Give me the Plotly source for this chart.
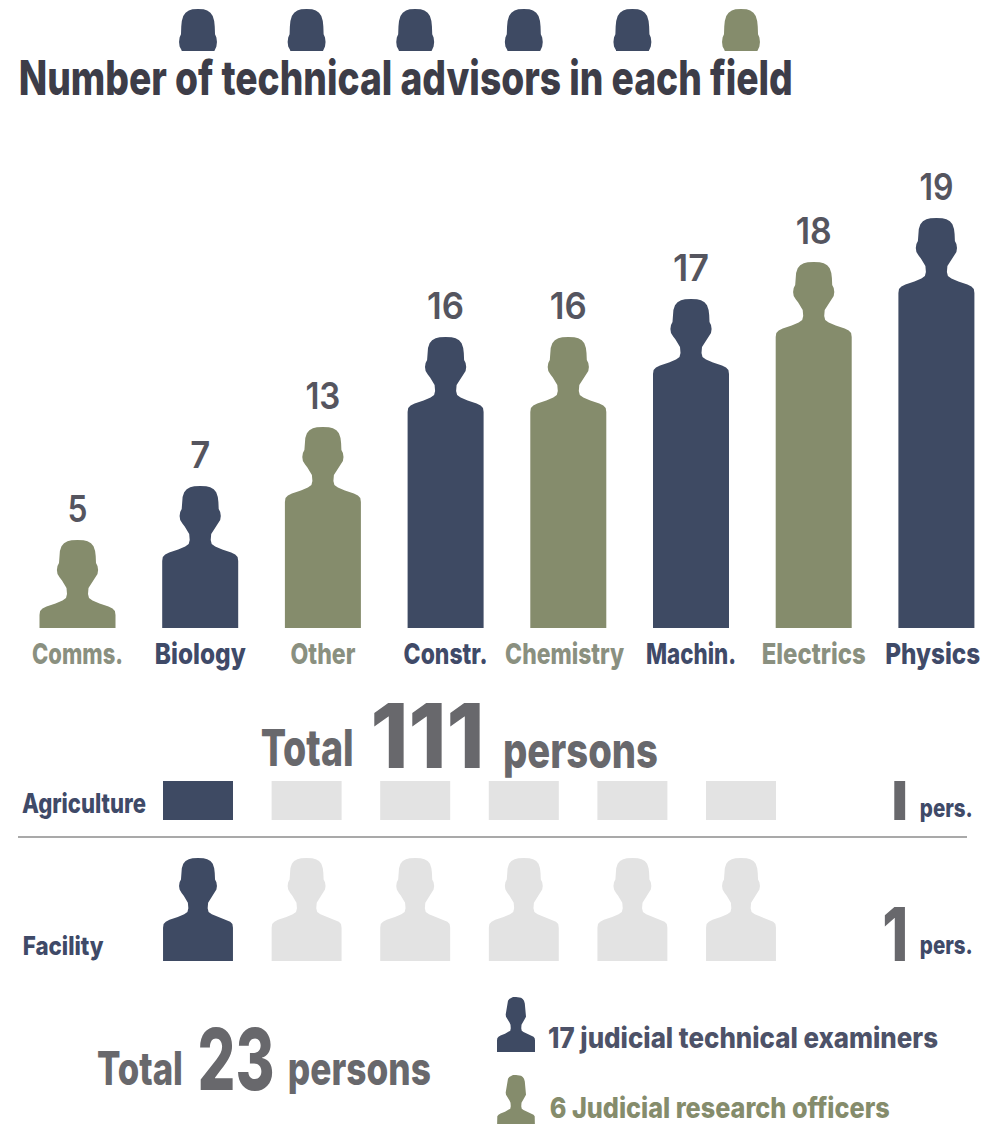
import json
import plotly.graph_objects as go

# ---------- data ----------
categories = ["Comms.", "Biology", "Other", "Constr.", "Chemistry", "Machin.", "Electrics", "Physics"]
advisor_counts = [5, 7, 13, 16, 16, 17, 18, 19]
icon_heights = [88, 142, 201, 291, 291, 329, 366, 410]   # drawn height of each figure
groups = ["olive", "navy", "olive", "navy", "olive", "navy", "olive", "navy"]
tick_nudges = [0, 0, 0, 0, -0.03, 0, 0, -0.03]

agriculture_count = 1
facility_count = 1
slots = 6
header_groups = ["navy", "navy", "navy", "navy", "navy", "olive"]

total_advisors = 111
total_judicial = 23
examiners = 17
officers = 6

# ---------- style ----------
W, H = 993, 1124
NAVY = "#3e4a63"
OLIVE = "#858c6c"
EMPTY = "#e3e3e3"
COLORS = {"navy": NAVY, "olive": OLIVE}
LABEL_COLORS = {"navy": "#3f4a68", "olive": "#8a9080"}
GREY = "#68686c"
FONT = "Inter"
tick_widths = [91, 91, 65, 84, 119, 90, 104, 95]
value_widths = [20, 20, 35, 37, 37, 36, 36, 34]

# half outline of a person, (half-width, distance below top of head), in pixels at full scale
HALF = [(0, 0), (6, 0.2), (10, 1.3), (13.5, 3.3), (16, 6.3), (17.6, 11), (18.2, 16), (18.5, 23), (20, 26), (20.6, 30),
        (20, 34), (17.8, 37.5), (15.5, 40.5), (13, 44), (11, 48), (10.5, 54), (11.5, 58), (15, 60.5), (22, 63.5),
        (31, 66.5), (35, 68.5), (37.4, 71), (38, 75)]


def person(height, sx=1.0, sy=1.0, cut=None):
    """Return offsets (dx, dy-from-top) closed around a person of the given height."""
    pts = [(x * sx, y * sy) for x, y in HALF]
    if cut is not None:
        kept = [p for p in pts if p[1] <= cut]
        kept.append((kept[-1][0], cut))
        pts = kept
    else:
        pts.append((38 * sx, height))
    return pts + [(-x, y) for x, y in reversed(pts)]


PX_PER_CAT = 122.7
CAT0 = 77.5
PX_PER_SLOT = 108.6
SLOT0 = 198


def dom(top, bottom):
    return [1 - bottom / H, 1 - top / H]


fig = go.Figure()

# main chart: one filled silhouette per field
for i, (h, g) in enumerate(zip(icon_heights, groups)):
    outline = person(h)
    fig.add_trace(go.Scatter(
        x=[i + dx / PX_PER_CAT for dx, _ in outline],
        y=[h - dy for _, dy in outline],
        mode="lines", fill="toself", fillcolor=COLORS[g], line=dict(width=0, color=COLORS[g]),
        hoverinfo="skip", showlegend=False, xaxis="x", yaxis="y"))

fig.add_trace(go.Scatter(
    x=list(range(len(categories))), y=[h + 9 for h in icon_heights],
    mode="text", text=[str(v) for v in advisor_counts], textposition="top center",
    textfont=dict(family=FONT, size=37, color="#55555f", weight=600),
    hoverinfo="skip", showlegend=False, xaxis="x", yaxis="y"))

# agriculture row: squares
slot_x = list(range(slots))
fig.add_trace(go.Bar(
    x=slot_x, y=[1] * slots, width=70 / PX_PER_SLOT,
    marker=dict(color=[NAVY if s < agriculture_count else EMPTY for s in slot_x], line_width=0),
    hoverinfo="skip", showlegend=False, xaxis="x2", yaxis="y2"))

# facility row: people
for s in slot_x:
    c = NAVY if s < facility_count else EMPTY
    outline = person(103, sx=0.92, sy=0.93)
    fig.add_trace(go.Scatter(
        x=[s + dx / PX_PER_SLOT for dx, _ in outline],
        y=[103 - dy for _, dy in outline],
        mode="lines", fill="toself", fillcolor=c, line=dict(width=0, color=c),
        hoverinfo="skip", showlegend=False, xaxis="x2", yaxis="y3"))

# header row: heads cropped by the title
for s, g in enumerate(header_groups):
    outline = person(0, sx=0.92, sy=1.1, cut=42)
    fig.add_trace(go.Scatter(
        x=[s + dx / PX_PER_SLOT for dx, _ in outline],
        y=[42 - dy for _, dy in outline],
        mode="lines", fill="toself", fillcolor=COLORS[g], line=dict(width=0, color=COLORS[g]),
        hoverinfo="skip", showlegend=False, xaxis="x2", yaxis="y4"))

# legend icons
for g, ax in (("navy", "y5"), ("olive", "y6")):
    outline = person(55, sx=0.5, sy=0.58)
    fig.add_trace(go.Scatter(
        x=[(516 - SLOT0) / PX_PER_SLOT + dx / PX_PER_SLOT for dx, _ in outline],
        y=[55 - dy for _, dy in outline],
        mode="lines", fill="toself", fillcolor=COLORS[g], line=dict(width=0, color=COLORS[g]),
        hoverinfo="skip", showlegend=False, xaxis="x2", yaxis=ax))

ann = []
ann_widths = []


def txt(s, x0, x1, y, size, color, weight=700):
    ann_widths.append(x1 - x0)
    ann.append(dict(text=s, x=(x0 + x1) / 2 / W, y=1 - y / H, xref="paper", yref="paper", xanchor="center",
                    yanchor="middle", showarrow=False, borderpad=0,
                    font=dict(family=FONT, size=size, color=color, weight=weight)))


txt("Number of technical advisors in each field", 18, 792, 78, 48, "#3d3d48", 800)
txt("Total", 260, 353, 747, 51, GREY, 800)
txt(str(total_advisors), 370, 484, 735, 90, GREY, 800)
txt("persons", 503, 658, 750, 50, GREY, 800)
txt("Agriculture", 22, 146, 803, 27, "#3f4a68", 800)
txt("I", 890, 908, 800, 54, GREY, 800)
txt("pers.", 920, 973, 808, 25, "#3f4a68", 800)
txt("Facility", 22, 103, 945, 26, "#3f4a68", 800)
txt(str(facility_count), 882, 908, 934, 74, GREY, 800)
txt("pers.", 920, 973, 945, 25, "#3f4a68", 800)
txt("Total", 97, 183, 1068, 46, GREY, 800)
txt(str(total_judicial), 197, 274, 1059, 85, GREY, 800)
txt("persons", 288, 431, 1068, 46, GREY, 800)
txt(f"{examiners} judicial technical examiners", 548, 938, 1038, 28, "#4d5268", 800)
txt(f"{officers} Judicial research officers", 549, 889, 1108, 28, OLIVE, 800)

tick_text = [f'<span style="color:{LABEL_COLORS[g]}">{c}</span>' for c, g in zip(categories, groups)]

fig.update_layout(
    width=W, height=H, margin=dict(l=0, r=0, t=0, b=0),
    paper_bgcolor="white", plot_bgcolor="rgba(0,0,0,0)",
    showlegend=False, barmode="overlay", annotations=ann,
    shapes=[dict(type="line", xref="paper", yref="paper", x0=18 / W, x1=967 / W, y0=1 - 837 / H, y1=1 - 837 / H,
                 line=dict(color="#8c8c8c", width=1.5))],
    xaxis=dict(domain=[0, 1], range=[-CAT0 / PX_PER_CAT, (W - CAT0) / PX_PER_CAT], anchor="y",
               tickvals=[i + n for i, n in enumerate(tick_nudges)], ticktext=tick_text, showgrid=False, zeroline=False,
               ticks="", ticklabelstandoff=6, tickfont=dict(family=FONT, size=29, weight=800), showline=False,
               tickangle=0),
    yaxis=dict(domain=dom(170, 628), range=[0, 458], visible=False, fixedrange=True),
    xaxis2=dict(domain=[0, 1], range=[-SLOT0 / PX_PER_SLOT, (W - SLOT0) / PX_PER_SLOT], visible=False, anchor="y2"),
    yaxis2=dict(domain=dom(781, 820), range=[0, 1], visible=False, anchor="x2"),
    yaxis3=dict(domain=dom(858, 961), range=[0, 103], visible=False, anchor="x2"),
    yaxis4=dict(domain=dom(9, 51), range=[0, 42], visible=False, anchor="x2"),
    yaxis5=dict(domain=dom(997, 1052), range=[0, 55], visible=False, anchor="x2"),
    yaxis6=dict(domain=dom(1075, 1124), range=[6, 55], visible=False, anchor="x2"),
)

# the reference type is condensed: no condensed face is installed, so squeeze each real text to its measured width.
# Some texts carry their position in a transform attribute, which is carried over into the CSS transform.
post = """
document.body.style.margin='0';document.body.style.overflow='hidden';
(function(){
  var A=%s,T=%s,V=%s;
  function squeeze(sel,arr){
    document.querySelectorAll(sel).forEach(function(t,i){
      if(i>=arr.length)return;
      var w=t.getComputedTextLength(); if(!w)return;
      var a=t.getAttribute('transform')||'',m=a.match(/translate\\(\\s*([-\\d.]+)[ ,]*([-\\d.]*)\\s*\\)/),pre='';
      if(m)pre='translate('+m[1]+'px,'+(m[2]||0)+'px) ';
      t.style.transformBox='fill-box';t.style.transformOrigin='center';
      t.style.transform=pre+'scaleX('+(arr[i]/w)+')';
    });
  }
  function run(){squeeze('.annotation-text',A);squeeze('.xtick text',T);squeeze('.textpoint text',V);}
  run();setTimeout(run,0);setTimeout(run,100);
  var gd=document.getElementById('{plot_id}');
  if(gd&&gd.on)gd.on('plotly_afterplot',run);
})();
""" % (json.dumps(ann_widths), json.dumps(tick_widths), json.dumps(value_widths))

fig.write_html("out.html", config={"displayModeBar": False}, post_script=post)
